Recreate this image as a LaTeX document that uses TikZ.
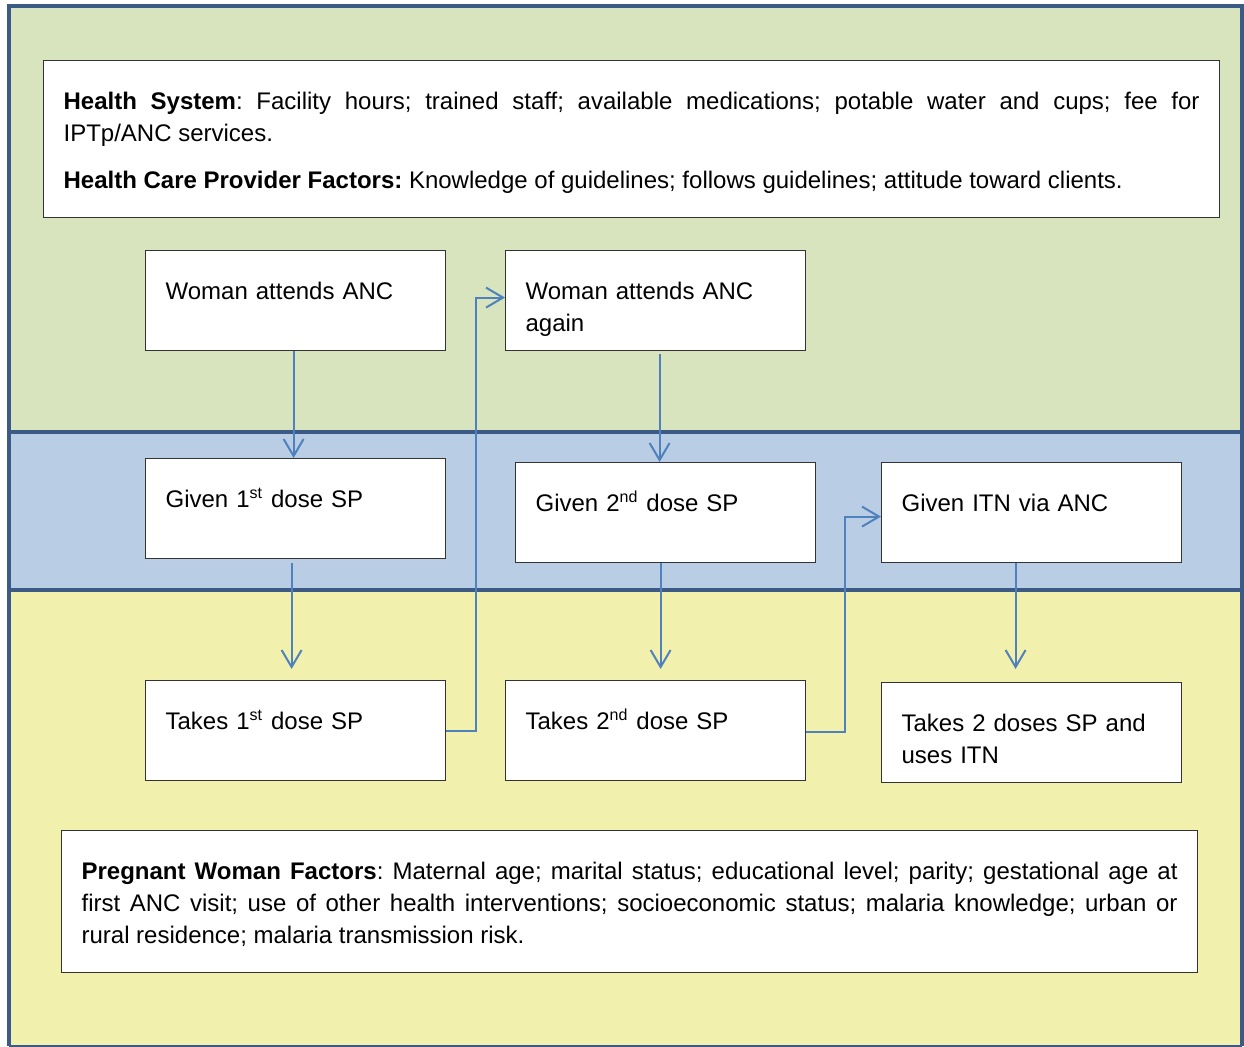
\documentclass[tikz,border=0pt]{standalone}
\usepackage{fontspec}
\setmainfont{Liberation Sans}
\usetikzlibrary{arrows,arrows.meta,positioning}
\frenchspacing

\definecolor{bandgreen}{HTML}{D7E4BD}
\definecolor{bandblue}{HTML}{B9CDE5}
\definecolor{bandyellow}{HTML}{F1F1AD}
\definecolor{bandline}{HTML}{3B5A86}
\definecolor{flow}{HTML}{4F81BD}

\begin{document}
\begin{tikzpicture} [x=0.5pt,y=-0.5pt,font=\fontsize{12}{16}\selectfont,
  box/.style={draw=black!80,line width=0.6pt,fill=white,anchor=north west,
    inner xsep=10pt,inner ysep=0pt,align=left,text width=130pt,
    text height=24.5pt,text depth=25.5pt},
  wide/.style={box,align=justify},
  flowline/.style={flow,line width=1pt,-{Straight Barb[length=8.5pt,width=10pt]}}]

  \useasboundingbox (0,0) rectangle (1244,1047);

  % bands
  \fill[bandgreen] (9,6) rectangle (1242,432);
  \fill[bandblue] (9,432) rectangle (1242,590);
  \fill[bandyellow] (9,590) rectangle (1242,1046);
  \draw[bandline,line width=2pt] (9,1046) -- (9,6) -- (1242,6) -- (1242,1046);
  \draw[bandline,line width=0.6pt] (9,1046) -- (1242,1046);
  \draw[bandline,line width=2.2pt] (9,432) -- (1242,432) (9,590) -- (1242,590);

  \node[wide,text width=568pt,text depth=54pt] (system) at (43,60)
    {\textbf{Health System}: Facility hours; trained staff; available medications; potable water and cups; fee for\linebreak IPTp/ANC services.\\[7.5pt]
     \textbf{Health Care Provider Factors:} Knowledge of guidelines; follows guidelines; attitude toward clients.};

  \node[box] (anc1) at (145,250) {Woman attends ANC};
  \node[box] (anc2) at (505,250) {Woman attends ANC again};
  \node[box] (dose1) at (145,458) {Given 1\textsuperscript{st} dose SP};
  \node[box] (dose2) at (515,462) {Given 2\textsuperscript{nd} dose SP};
  \node[box] (itn) at (881,462) {Given ITN via ANC};
  \node[box] (take1) at (145,680) {Takes 1\textsuperscript{st} dose SP};
  \node[box] (take2) at (505,680) {Takes 2\textsuperscript{nd} dose SP};
  \node[box] (takeall) at (881,682) {Takes 2 doses SP and uses ITN};

  \node[wide,text width=548pt,text depth=46.5pt] (woman) at (61,830)
    {\textbf{Pregnant Woman Factors}: Maternal age; marital status; educational level; parity; gestational age at first ANC visit; use of other health interventions; socioeconomic status; malaria knowledge; urban or rural residence; malaria transmission risk.};

  \path[flowline]
    ([xshift=-1pt]anc1.south) edge ([xshift=-1pt]dose1.north)
    ([shift={(2pt,-1.5pt)}]anc2.south) edge ([xshift=-3pt]dose2.north)
    ([shift={(-2pt,-2pt)}]dose1.south) edge ([shift={(-2pt,5.5pt)}]take1.north)
    ([xshift=-2.5pt]dose2.south) edge ([shift={(2.5pt,5.5pt)}]take2.north)
    ([xshift=-8pt]itn.south) edge ([shift={(-8pt,6.5pt)}]takeall.north);

  \draw[flowline] (take1.east) -- ++(15pt,0) |- ([yshift=1.5pt]anc2.west);
  \draw[flowline] ([yshift=-0.5pt]take2.east) -- ++(19.5pt,0) |- ([yshift=-2pt]itn.west);

\end{tikzpicture}
\end{document}
